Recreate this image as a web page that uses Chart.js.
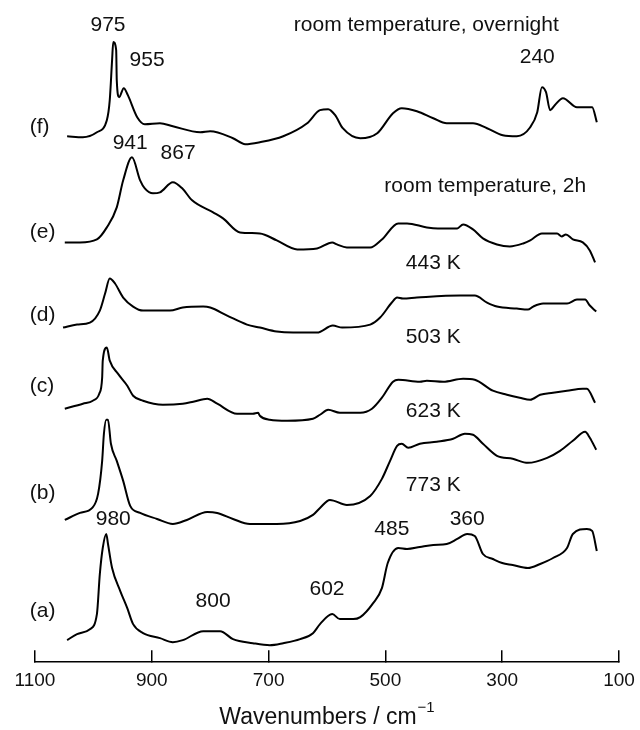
<!DOCTYPE html>
<html>
<head>
<meta charset="utf-8">
<script src="https://cdn.jsdelivr.net/npm/chart.js@4.4.0/dist/chart.umd.min.js"></script>
<style>
  html, body { margin: 0; padding: 0; background: #fff; }
</style>
</head>
<body>
<canvas id="myChart" width="640" height="730"></canvas>
<script>
// Raman spectra, stacked (intensity in arbitrary units incl. vertical offset)
var wnA = [1045,1028,1006,994,989,984,978,975,968,954,942,932,915,886,864,847,812,783,761,727,698,675,646,624,612,591,578,555,543,521,506,496,478,463,441,418,395,377,360,347,333,316,300,282,256,235,213,189,179,155,146,138];
var intA = [22,28,33,48,88,114,128,118,94,71,54,38,29,24,20,22,31,31,23,19,17,19,23,29,38,48,43,43,45,59,74,99,114,113,115,117,118,123,128,126,108,103,99,97,94,98,104,114,128,133,131,111];

var wnB = [1049,1023,1002,992,985,982,978,975,970,960,949,937,920,891,864,840,805,788,761,732,686,646,624,612,595,566,526,506,492,480,472,461,441,412,384,364,350,333,309,282,256,223,201,179,158,150,139];
var intB = [142,149,154,168,201,228,242,242,218,201,181,156,149,143,138,142,150,149,143,138,138,141,147,154,162,157,166,183,201,216,218,214,218,220,223,228,227,218,206,203,199,204,211,221,230,224,212];

var wnC = [1049,1018,1001,990,985,984,977,972,958,942,932,915,881,847,829,805,788,754,727,718,715,698,668,624,612,598,578,543,523,506,487,478,441,429,401,367,347,316,292,270,252,235,213,189,162,155,141];
var intC = [253,258,261,268,284,301,314,301,288,276,266,261,257,258,260,263,258,248,248,249,246,242,241,243,247,252,249,249,253,264,280,282,280,281,280,283,282,271,267,264,262,267,269,271,273,273,259];

var wnD = [1052,1028,1006,989,980,972,963,949,932,915,869,847,812,800,771,737,715,686,658,617,590,574,526,509,489,480,470,446,372,347,326,309,275,256,247,230,189,172,158,150,139];
var intD = [334,337,339,351,368,383,378,364,355,351,351,354,355,354,346,337,334,330,329,329,336,334,337,344,359,364,363,364,366,366,359,355,353,352,355,358,358,362,362,356,350];

var wnE = [1049,1023,994,977,960,949,934,920,912,898,886,864,848,831,795,778,749,715,686,651,617,591,583,566,526,506,478,463,429,410,377,367,350,333,309,287,264,252,232,206,198,191,179,162,150,141];
var intE = [419,419,422,434,454,481,504,481,473,468,469,479,473,461,449,443,429,428,421,412,413,419,417,414,414,422,438,438,434,433,433,437,432,423,417,415,418,421,428,428,425,427,422,419,411,399];

var wnF = [1045,1018,994,977,972,968,966,961,960,956,948,941,925,912,886,864,817,800,761,740,715,675,634,612,598,586,573,543,514,487,472,446,418,395,350,326,299,275,252,240,232,225,218,210,196,172,146,138];
var intF = [525,524,529,541,561,601,619,611,581,564,573,566,544,537,538,535,529,530,523,517,519,525,538,551,552,546,533,523,528,548,553,550,543,538,538,533,526,525,534,549,574,569,551,556,563,554,554,539];

var seriesNames = ['(a)', '(b)', '(c)', '(d)', '(e)', '(f)'];
var xTicks = [1100, 900, 700, 500, 300, 100];

var FONT = "'Liberation Sans', Arial, Helvetica, sans-serif";

function toPoints(wn, val) {
  return wn.map(function(w, i) { return { x: w, y: val[i] }; });
}

var spectra = [[wnA, intA], [wnB, intB], [wnC, intC], [wnD, intD], [wnE, intE], [wnF, intF]];

// text labels placed in data coordinates (wavenumber, intensity)
var notes = [
  { text: '975', x: 975, y: 636 },
  { text: '955', x: 908, y: 601 },
  { text: 'room temperature, overnight', x: 430, y: 636 },
  { text: '240', x: 240, y: 604 },
  { text: '941', x: 937, y: 518 },
  { text: '867', x: 855, y: 508 },
  { text: 'room temperature, 2h', x: 329, y: 475 },
  { text: '443 K', x: 418, y: 398 },
  { text: '503 K', x: 418, y: 324 },
  { text: '623 K', x: 418, y: 251 },
  { text: '773 K', x: 418, y: 177 },
  { text: '980', x: 966, y: 143 },
  { text: '485', x: 489, y: 133 },
  { text: '360', x: 360, y: 143 },
  { text: '800', x: 795, y: 61 },
  { text: '602', x: 600, y: 73 }
];
var nameY = [51, 169, 275, 346, 429, 534];

var notesPlugin = {
  id: 'notes',
  afterDatasetsDraw: function(chart) {
    var c = chart.ctx, xs = chart.scales.x, ys = chart.scales.y;
    c.save();
    c.fillStyle = '#111';
    c.font = '21px ' + FONT;
    c.textBaseline = 'middle';
    c.textAlign = 'center';
    notes.forEach(function(n) {
      c.fillText(n.text, xs.getPixelForValue(n.x), ys.getPixelForValue(n.y));
    });
    c.textAlign = 'left';
    seriesNames.forEach(function(s, i) {
      c.fillText(s, xs.getPixelForValue(1109), ys.getPixelForValue(nameY[i]));
    });
    // axis title with superscript
    var a = chart.chartArea;
    var main = 'Wavenumbers / cm', sup = '\u22121';
    c.font = '23px ' + FONT;
    var w1 = c.measureText(main).width;
    c.font = '15px ' + FONT;
    var w2 = c.measureText(sup).width;
    var x0 = (a.left + a.right) / 2 - (w1 + w2 + 1) / 2;
    c.font = '23px ' + FONT;
    c.fillText(main, x0, 718);
    c.font = '15px ' + FONT;
    c.fillText(sup, x0 + w1 + 1, 708);
    c.restore();
  }
};

var ctx = document.getElementById('myChart').getContext('2d');
var myChart = new Chart(ctx, {
  type: 'line',
  data: {
    datasets: spectra.map(function(s, i) {
      return {
        label: seriesNames[i],
        data: toPoints(s[0], s[1]),
        borderColor: '#000',
        borderWidth: 2,
        pointRadius: 0,
        cubicInterpolationMode: 'monotone',
        fill: false
      };
    })
  },
  options: {
    responsive: false,
    animation: false,
    layout: {
      padding: { top: 11, left: 35, right: 21, bottom: 19 }
    },
    plugins: {
      legend: { display: false },
      tooltip: { enabled: false }
    },
    scales: {
      x: {
        type: 'linear',
        reverse: true,
        min: 100,
        max: 1100,
        // tick labels fit inside the layout padding, no extra side room
        afterFit: function(scale) {
          scale.paddingLeft = 0;
          scale.paddingRight = 0;
        },
        border: { display: true, color: '#000', width: 1.5 },
        grid: { drawOnChartArea: false, drawTicks: true, tickLength: -12, color: '#000', lineWidth: 1.5 },
        ticks: {
          stepSize: 200,
          padding: 19,
          color: '#111',
          font: { size: 19, family: FONT },
          maxRotation: 0,
          callback: function(v) { return xTicks.indexOf(v) >= 0 ? String(v) : ''; }
        }
      },
      y: {
        display: false,
        min: 0,
        max: 650
      }
    }
  },
  plugins: [notesPlugin]
});
</script>
</body>
</html>
